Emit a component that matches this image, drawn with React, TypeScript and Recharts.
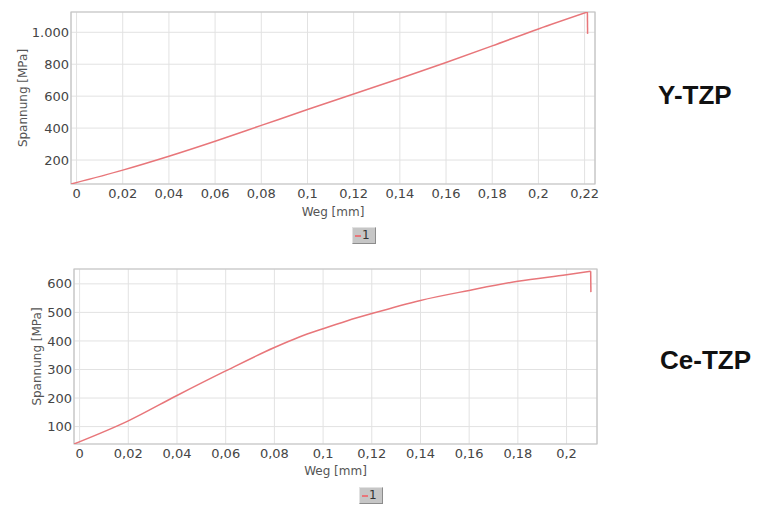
import React from 'react';
import { LineChart, Line, XAxis, YAxis, CartesianGrid, ReferenceArea, Legend } from 'recharts';

// Y-TZP series (loading curve, then the fracture drop)
const yTzpWeg = [-0.0024, 0.02, 0.04, 0.06, 0.08, 0.1, 0.12, 0.14, 0.16, 0.18, 0.2, 0.2212];
const yTzpSpannung = [50, 137, 224, 318, 417, 516, 614, 711, 811, 915, 1021, 1127];
const yTzpDropWeg = [0.2212, 0.2213];
const yTzpDropSpannung = [1127, 990];
// Ce-TZP series (loading curve, then the fracture drop)
const ceTzpWeg = [-0.0023, 0.02, 0.04, 0.06, 0.08, 0.09, 0.1, 0.11, 0.12, 0.14, 0.16, 0.18, 0.2, 0.2099];
const ceTzpSpannung = [39, 120, 209, 295, 377, 413, 443, 471, 496, 542, 577, 609, 632, 644];
const ceTzpDropWeg = [0.2099, 0.21];
const ceTzpDropSpannung = [644, 571];

const yTzpXTicks = [0, 0.02, 0.04, 0.06, 0.08, 0.1, 0.12, 0.14, 0.16, 0.18, 0.2, 0.22];
const ceTzpXTicks = [0, 0.02, 0.04, 0.06, 0.08, 0.1, 0.12, 0.14, 0.16, 0.18, 0.2];
const yTzpYTicks = [200, 400, 600, 800, 1000];
const ceTzpYTicks = [100, 200, 300, 400, 500, 600];

const yTzpXDomain = [-0.0024, 0.2245];
const yTzpYDomain = [50, 1127];
const ceTzpXDomain = [-0.0023, 0.2125];
const ceTzpYDomain = [39, 652];

const seriesName = '1';
const xAxisTitle = 'Weg [mm]';
const yAxisTitle = 'Spannung [MPa]';
const panelTitles = ['Y-TZP', 'Ce-TZP'];

const LINE_COLOR = '#e8767a';
const FONT = 'DejaVu Sans, Verdana, sans-serif';

const fmtX = (v: number) => (v === 0 ? '0' : String(v).replace('.', ','));
const fmtY = (v: number) => (v >= 1000 ? String(v).replace(/(\d)(\d{3})$/, '$1.$2') : String(v));

const LegendBox = () => (
  <div
    style={{
      width: 24,
      height: 17,
      background: '#c6c6c6',
      borderTop: '1px solid #e2e2e2',
      borderLeft: '1px solid #e2e2e2',
      borderRight: '1px solid #8c8c8c',
      borderBottom: '1px solid #8c8c8c',
      boxSizing: 'border-box',
      position: 'relative',
      fontFamily: FONT,
      fontSize: 12,
      color: '#333',
    }}
  >
    <div style={{ position: 'absolute', left: 2, top: 7, width: 6, height: 2, background: LINE_COLOR }} />
    <span style={{ position: 'absolute', left: 9, top: 0, lineHeight: '15px' }}>{seriesName}</span>
  </div>
);

type PanelProps = {
  xs: number[];
  ys: number[];
  dropXs: number[];
  dropYs: number[];
  xDomain: number[];
  yDomain: number[];
  xTicks: number[];
  yTicks: number[];
  height: number;
  margin: { top: number; right: number; left: number; bottom: number };
  yAxisWidth: number;
  yLabelDx: number;
  xLabelDy: number;
  legendPos: { left: number; top: number };
  top: number;
};

const Panel = (p: PanelProps) => {
  const data = p.xs.map((x, i) => ({ x, y: p.ys[i] }));
  const drop = p.dropXs.map((x, i) => ({ x, y: p.dropYs[i] }));
  return (
    <div style={{ position: 'absolute', left: 0, top: p.top }}>
      <LineChart width={757} height={p.height} margin={p.margin} style={{ fontFamily: FONT }}>
        <CartesianGrid stroke="#e2e2e2" strokeWidth={1} />
        <XAxis
          type="number"
          dataKey="x"
          domain={p.xDomain}
          ticks={p.xTicks}
          allowDataOverflow
          height={30}
          axisLine={false}
          tickLine={false}
          tickSize={0}
          tickMargin={5}
          tickFormatter={fmtX}
          tick={{ fontSize: 13, fill: '#454545', fontFamily: FONT }}
          interval={0}
          label={{ value: xAxisTitle, position: 'center', dy: p.xLabelDy, fontSize: 12, fill: '#555', fontFamily: FONT }}
        />
        <YAxis
          type="number"
          domain={p.yDomain}
          ticks={p.yTicks}
          allowDataOverflow
          width={p.yAxisWidth}
          axisLine={false}
          tickLine={false}
          tickSize={0}
          tickMargin={2}
          tickFormatter={fmtY}
          tick={{ fontSize: 13, fill: '#454545', fontFamily: FONT }}
          interval={0}
          label={{ value: yAxisTitle, angle: -90, position: 'center', dx: p.yLabelDx, fontSize: 12, fill: '#555', fontFamily: FONT }}
        />
        <ReferenceArea
          x1={p.xDomain[0]}
          x2={p.xDomain[1]}
          y1={p.yDomain[0]}
          y2={p.yDomain[1]}
          fill="none"
          stroke="#c2c2c2"
          strokeWidth={1.2}
          ifOverflow="visible"
        />
        <Line
          data={data}
          type="monotone"
          dataKey="y"
          name={seriesName}
          stroke={LINE_COLOR}
          strokeWidth={1.5}
          dot={false}
          isAnimationActive={false}
        />
        <Line
          data={drop}
          type="linear"
          dataKey="y"
          name={seriesName}
          legendType="none"
          stroke={LINE_COLOR}
          strokeWidth={1.5}
          dot={false}
          isAnimationActive={false}
        />
        <Legend
          layout="horizontal"
          verticalAlign="middle"
          align="center"
          content={() => <LegendBox />}
          wrapperStyle={{ left: p.legendPos.left, top: p.legendPos.top, width: 24, height: 17 }}
        />
      </LineChart>
    </div>
  );
};

export default function App() {
  return (
    <div style={{ position: 'absolute', left: 0, top: 0, width: 757, height: 507, background: '#fff', overflow: 'hidden' }}>
      <Panel
        xs={yTzpWeg}
        ys={yTzpSpannung}
        dropXs={yTzpDropWeg}
        dropYs={yTzpDropSpannung}
        xDomain={yTzpXDomain}
        yDomain={yTzpYDomain}
        xTicks={yTzpXTicks}
        yTicks={yTzpYTicks}
        height={250}
        margin={{ top: 12, right: 162, left: 0, bottom: 36 }}
        yAxisWidth={71}
        yLabelDx={-13}
        xLabelDy={13}
        legendPos={{ left: 352, top: 227 }}
        top={0}
      />
      <Panel
        xs={ceTzpWeg}
        ys={ceTzpSpannung}
        dropXs={ceTzpDropWeg}
        dropYs={ceTzpDropSpannung}
        xDomain={ceTzpXDomain}
        yDomain={ceTzpYDomain}
        xTicks={ceTzpXTicks}
        yTicks={ceTzpYTicks}
        height={257}
        margin={{ top: 19, right: 160, left: 0, bottom: 33 }}
        yAxisWidth={74}
        yLabelDx={0}
        xLabelDy={12}
        legendPos={{ left: 359, top: 237 }}
        top={250}
      />
      <svg width={757} height={507} style={{ position: 'absolute', left: 0, top: 0, pointerEvents: 'none' }}>
        <text x={658} y={104} fontFamily="Liberation Sans, Arial, sans-serif" fontWeight="bold" fontSize={26} fill="#111">
          {panelTitles[0]}
        </text>
        <text x={660} y={369} fontFamily="Liberation Sans, Arial, sans-serif" fontWeight="bold" fontSize={26} fill="#111">
          {panelTitles[1]}
        </text>
      </svg>
    </div>
  );
}
